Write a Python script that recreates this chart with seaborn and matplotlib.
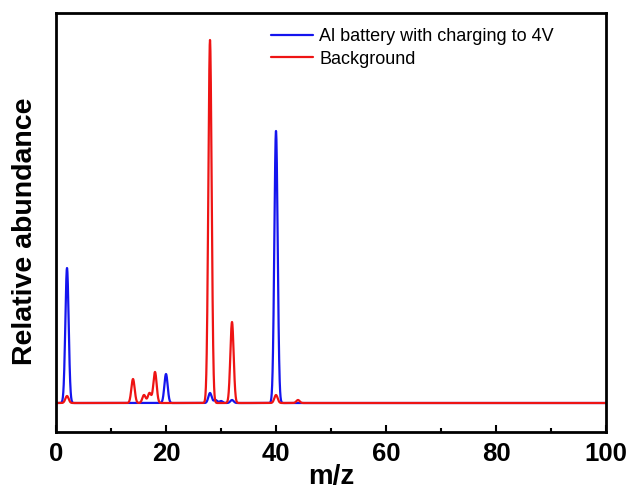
import numpy as np
import pandas as pd
import matplotlib
matplotlib.use("Agg")
import matplotlib.pyplot as plt
from matplotlib.lines import Line2D
import seaborn as sns

# Peak tables (m/z, relative height in arbitrary units)
al_mz = [2, 20, 28, 29, 30, 32, 40]
al_int = [135, 29, 10, 3, 2, 3, 272]
bg_mz = [2, 14, 16, 17, 18, 28, 32, 40, 44]
bg_int = [7, 24, 8, 10, 31, 363, 81, 8, 3]

series_names = ["Al battery with charging to 4V", "Background"]
x_ticks = [0, 20, 40, 60, 80, 100]

mz_grid = np.linspace(0, 100, 4001)


def profile(mzs, ints, width=0.3):
    y = np.zeros_like(mz_grid)
    for m, h in zip(mzs, ints):
        y += h * np.exp(-0.5 * ((mz_grid - m) / width) ** 2)
    return y


df = pd.concat([
    pd.DataFrame({"m/z": mz_grid, "val": profile(al_mz, al_int), "series": series_names[0]}),
    pd.DataFrame({"m/z": mz_grid, "val": profile(bg_mz, bg_int), "series": series_names[1]}),
])

BLUE = "#1414ee"
RED = "#ee1414"

sns.set_theme(style="white")
plt.rcParams["font.family"] = ["Liberation Sans", "DejaVu Sans"]
plt.rcParams["text.color"] = "black"
plt.rcParams["axes.labelcolor"] = "black"

fig = plt.figure(figsize=(6.31, 4.92), dpi=100)
ax = fig.add_axes([56 / 631, 1 - 432 / 492, 550 / 631, 419 / 492])

sns.lineplot(data=df, x="m/z", y="val", hue="series",
             palette={series_names[0]: BLUE, series_names[1]: RED},
             linewidth=1.6, ax=ax, legend=False, sort=False, estimator=None)

ax.set_xlim(0, 100)
ax.set_ylim(-29, 390)
ax.set_yticks([])
ax.set_xticks(x_ticks)
ax.set_xticks(np.arange(10, 100, 20), minor=True)
ax.set_xticklabels([str(t) for t in x_ticks], fontsize=18.5, fontweight="bold", color="black")
ax.tick_params(axis="x", which="major", direction="in", length=5, width=1.5,
               bottom=True, top=False, pad=7, colors="black")
ax.tick_params(axis="x", which="minor", direction="in", length=3, width=1.5,
               bottom=True, top=False, colors="black")
for s in ax.spines.values():
    s.set_visible(True)
    s.set_color("black")
    s.set_linewidth(2)

ax.set_xlabel("m/z", fontsize=20, fontweight="bold", labelpad=-1, color="black")
ax.set_ylabel("Relative abundance", fontsize=20.5, fontweight="bold", color="black")
ax.yaxis.set_label_coords(-0.033, 0.478)

handles = [Line2D([], [], color=BLUE, lw=1.6), Line2D([], [], color=RED, lw=1.6)]
fig.legend(handles, series_names, loc="upper left",
           bbox_to_anchor=(271 / 631, 1 - 28 / 492), frameon=False,
           fontsize=13, borderpad=0, borderaxespad=0, handlelength=2.3,
           handletextpad=0.38, labelspacing=0.32)

fig.savefig("out.png", dpi=100)
